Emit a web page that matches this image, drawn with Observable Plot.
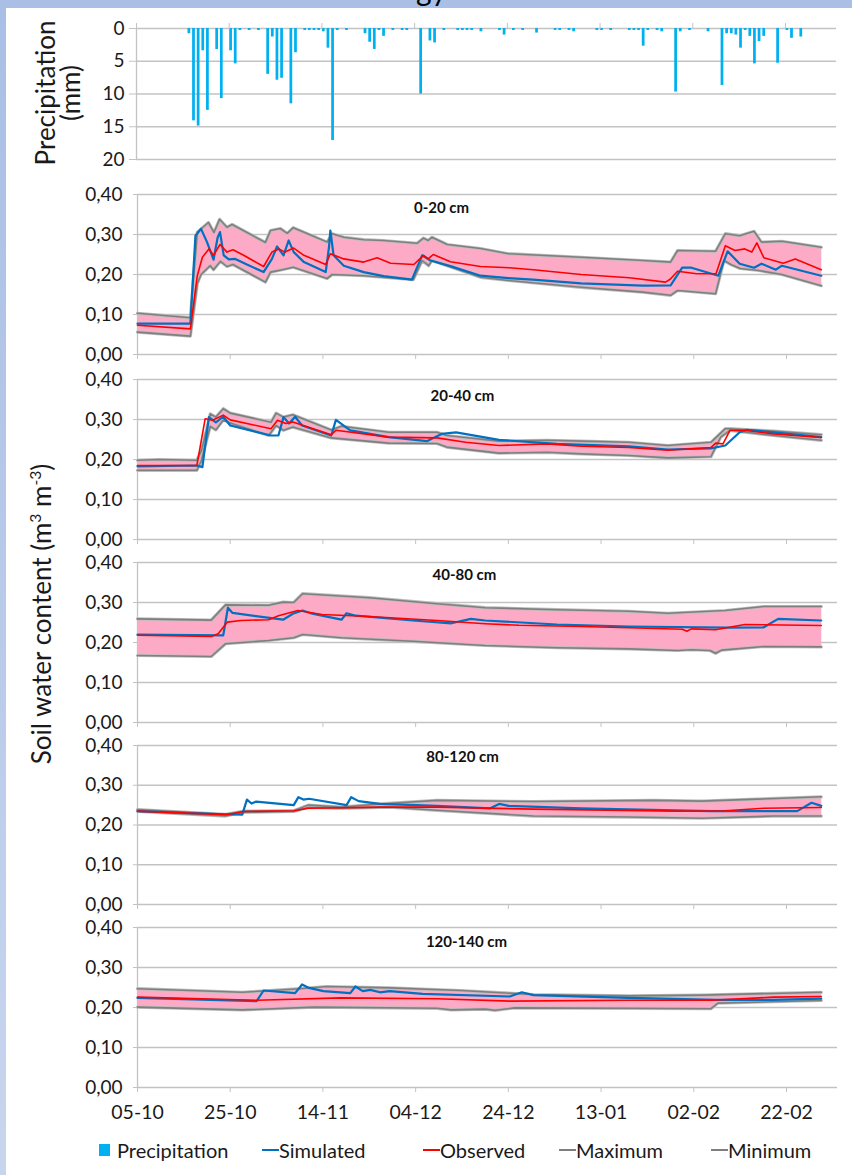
<!DOCTYPE html>
<html><head><meta charset="utf-8">
<script src="https://cdn.jsdelivr.net/npm/d3@7"></script>
<script src="https://cdn.jsdelivr.net/npm/@observablehq/plot@0.6"></script>
<style>
body{margin:0;}
#page{position:relative;width:852px;height:1175px;overflow:hidden;background:linear-gradient(#a9bfe5,#c8d5ee);font-family:Lato,sans-serif;color:#1a1a1a}
#sheet{position:absolute;left:6px;top:8px;right:0;bottom:0;background:#fff}
.abs{position:absolute}
svg{overflow:visible}
</style></head><body><div id="page"><div id="sheet"></div></div>
<script>
// ---------------- data (days since 05-10, values) ----------------
const tickDays = [0, 20, 40, 60, 80, 100, 120, 140];
const soilTicks = [0, 0.1, 0.2, 0.3, 0.4];
const precipTicks = [0, 5, 10, 15, 20];
const panelLabels = ["0-20 cm", "20-40 cm", "40-80 cm", "80-120 cm", "120-140 cm"];
const legendNames = ["Precipitation", "Simulated", "Observed", "Maximum", "Minimum"];

const precipDays = [11,12,13,14,15,17,18,20,21,22,24,26,28,29,30,31,33,34,36,37,38,39,40,41,42,43,45,49,50,51,52,53,55,57,58,61,63,64,66,69,70,71,72,74,78,79,81,83,86,90,91,93,94,99,100,102,106,107,108,109,110,112,113,116,117,119,123,126,127,128,129,130,131,132,133,134,135,138,140,141,143];
const precipMM = [0.8,14.1,14.9,3.4,12.5,3.2,10.7,3.4,5.4,0.3,0.3,0.3,7.0,1.3,7.9,7.6,11.5,3.7,0.3,0.3,0.3,0.3,0.5,3.0,17.1,0.3,0.3,0.8,2.1,3.2,0.3,1.2,0.3,0.3,0.3,10.0,1.9,2.2,0.3,0.3,0.3,0.3,0.3,0.5,0.3,1.0,0.3,0.3,0.7,0.3,0.3,0.3,0.5,0.3,0.3,0.3,0.3,0.3,0.3,2.7,0.3,0.3,0.5,9.7,0.5,0.3,0.5,8.7,0.8,0.8,1.0,3.0,0.3,1.2,5.4,2.0,1.2,5.3,0.3,1.5,1.3];

// 0-20 cm
const sim0_20 = [[0,.077],[11.4,.077],[12.5,.297],[13.7,.314],[15,.281],[16.4,.237],[17.3,.293],[17.8,.306],[18.6,.248],[19.7,.238],[21.1,.239],[23.6,.225],[27.2,.206],[29,.239],[30.1,.27],[31.5,.248],[32.6,.285],[33.7,.256],[35.9,.231],[40.6,.206],[41.3,.268],[41.6,.31],[42.3,.248],[44.5,.222],[48.8,.206],[53.1,.196],[59.2,.187],[61.4,.248],[63.2,.235],[67.5,.221],[74,.197],[80,.191],[85.3,.187],[95.7,.178],[109,.172],[115,.173],[117.5,.217],[119.5,.217],[125.3,.197],[127.3,.258],[129.9,.227],[133,.217],[134.6,.227],[137.7,.212],[139,.222],[147.5,.197]];
const obs0_20 = [[0,.073],[11.4,.064],[12.9,.197],[14,.243],[15.4,.264],[16.4,.248],[17.8,.275],[19.3,.256],[20.6,.262],[22.9,.248],[27.2,.22],[29,.256],[30.5,.264],[31.8,.256],[33.7,.266],[35.9,.248],[40.6,.225],[41.6,.252],[44.5,.239],[48.8,.231],[51.7,.242],[54.6,.228],[59.6,.225],[61.7,.248],[62.7,.239],[63.8,.25],[67.5,.232],[74,.22],[80.2,.217],[85.4,.212],[95.7,.2],[106.1,.192],[113.9,.181],[114.9,.188],[116.5,.208],[120.6,.202],[124.8,.202],[126.8,.272],[128.9,.26],[131,.264],[132.5,.256],[133.6,.279],[135.1,.242],[139.3,.228],[141.9,.239],[147.5,.212]];
const max0_20 = [[0,.103],[11.4,.092],[12.9,.306],[15.3,.33],[16.5,.305],[17.7,.338],[19.3,.318],[20.4,.325],[27.6,.28],[28.7,.31],[30.8,.315],[32.3,.303],[33.6,.317],[40.9,.281],[42,.302],[44.5,.293],[48.8,.287],[53,.285],[60.3,.278],[61.7,.291],[62.7,.285],[63.5,.293],[66.8,.275],[74,.265],[80,.252],[95.7,.243],[109,.235],[115,.231],[116.5,.26],[124.7,.258],[126.8,.302],[129.9,.297],[133,.308],[134.6,.281],[139,.283],[147.5,.268]];
const min0_20 = [[0,.056],[11.4,.046],[12.9,.177],[13.7,.2],[15.7,.222],[16.4,.212],[17.9,.233],[19.3,.22],[20.6,.225],[27.6,.181],[28.7,.206],[31.2,.212],[33.6,.218],[40.9,.19],[42,.2],[48.8,.197],[59.5,.187],[61.4,.235],[62.8,.222],[63.5,.235],[74,.193],[80,.185],[95.7,.168],[109,.156],[115,.148],[116.5,.16],[124.7,.152],[126.5,.235],[128,.225],[130,.215],[134,.21],[139,.2],[147.5,.172]];

// 20-40 cm
const sim20_40 = [[0,.183],[12.8,.185],[14,.181],[15.4,.306],[16.9,.293],[18.5,.307],[20,.285],[28.8,.26],[30.4,.26],[31.5,.306],[32.7,.29],[34,.307],[35.5,.285],[41.8,.26],[42.8,.299],[45.9,.273],[54.2,.256],[62.5,.246],[65.6,.264],[68.7,.268],[78,.249],[90.5,.239],[106,.233],[114.4,.225],[123.7,.228],[126.8,.235],[129.9,.268],[131.5,.274],[137.2,.268],[147.5,.256]];
const obs20_40 = [[0,.185],[12.8,.185],[14.6,.302],[16.2,.298],[18.5,.311],[20,.299],[28.8,.277],[30.2,.298],[32,.29],[33.5,.294],[41.8,.262],[42.8,.273],[54.2,.256],[64.6,.254],[70.8,.243],[78,.235],[88.4,.239],[95.7,.233],[106,.23],[114.4,.223],[123.7,.23],[124.7,.241],[126.3,.239],[127.8,.273],[131,.273],[137.2,.264],[147.5,.255]];
const max20_40 = [[0,.198],[4.5,.2],[12.8,.198],[13.8,.222],[15.7,.314],[16.9,.306],[18.5,.327],[20,.316],[28.8,.293],[29.9,.316],[31.5,.306],[33.5,.312],[41.8,.274],[44,.283],[54.2,.268],[64.6,.268],[66.7,.26],[78,.246],[88.4,.248],[95.7,.246],[106,.243],[114.4,.235],[123.7,.243],[126.8,.277],[127.8,.277],[137.2,.271],[147.5,.262]];
const min20_40 = [[0,.173],[12.8,.173],[13.8,.198],[15.7,.283],[16.9,.274],[18.5,.299],[20,.291],[28.3,.26],[29.9,.285],[31.5,.273],[33.5,.281],[41.8,.254],[54.2,.241],[64.6,.24],[66.7,.231],[78,.216],[88.4,.218],[95.7,.214],[106,.21],[114.4,.204],[123.7,.207],[125.8,.256],[127.8,.273],[137.2,.26],[147.5,.248]];

// 40-80 cm
const sim40_80 = [[0,.22],[18.5,.218],[19.5,.287],[20.5,.274],[31.4,.257],[33.5,.272],[35.6,.28],[37.7,.272],[44,.257],[45.1,.273],[47.1,.267],[59.4,.255],[67.7,.248],[71.9,.259],[75,.255],[90.5,.245],[106,.24],[126.8,.237],[135.1,.238],[138.2,.259],[147.5,.255]];
const obs40_80 = [[0,.218],[15.9,.215],[17.4,.222],[19.4,.251],[22.3,.255],[28.3,.257],[30.4,.267],[34.6,.28],[39.8,.27],[50,.265],[64.6,.255],[75,.247],[82.3,.243],[95.7,.24],[106,.237],[117.5,.233],[118.5,.228],[119.5,.234],[124.7,.232],[131,.245],[147.5,.2425]];
const max40_80 = [[0,.259],[15.9,.256],[19,.294],[28.3,.293],[31.4,.301],[33.7,.3],[35.6,.322],[50,.312],[64.6,.297],[75,.287],[90.5,.282],[106,.278],[114.4,.273],[126.8,.28],[135.1,.29],[147.5,.29]];
const min40_80 = [[0,.1675],[15.9,.165],[19,.197],[28.3,.205],[33.7,.212],[35.6,.22],[44,.212],[59.4,.203],[75,.1925],[90.5,.187],[106,.184],[116.5,.18],[119.5,.182],[123.5,.18],[124.7,.173],[126,.181],[135.1,.19],[147.5,.189]];

// 80-120 cm
const sim80_120 = [[0,.235],[19,.227],[22.6,.226],[23.6,.264],[24.6,.254],[25.6,.259],[33.7,.25],[34.7,.27],[35.8,.264],[37,.266],[45.1,.25],[46.1,.27],[47.7,.26],[52.3,.253],[64.6,.248],[76.1,.242],[78,.253],[80.1,.248],[95.7,.242],[123.7,.235],[142.3,.235],[145.4,.256],[147.5,.248]];
const obs80_120 = [[0,.235],[19,.226],[23,.234],[33.7,.236],[36.8,.242],[52.3,.245],[64.6,.245],[85.4,.24],[116.5,.235],[126.8,.236],[135.1,.242],[147.5,.244]];
const max80_120 = [[0,.239],[19,.227],[23,.235],[33.7,.236],[36.8,.25],[44,.245],[52.3,.253],[64.6,.262],[85.4,.259],[111.3,.262],[121.8,.26],[147.5,.271]];
const min80_120 = [[0,.234],[19,.2225],[23,.232],[33.7,.234],[36.8,.244],[44,.242],[54.4,.245],[64.6,.237],[85.4,.2225],[106,.22],[121.8,.217],[137.2,.2225],[147.5,.2225]];

// 120-140 cm
const sim120_140 = [[0,.224],[25.7,.216],[27.2,.2425],[34,.236],[35.5,.2575],[37,.249],[40.1,.241],[45.9,.236],[47,.2525],[48.6,.241],[50.2,.244],[52.3,.238],[54.4,.241],[61.5,.234],[80.3,.2275],[82.9,.238],[85.4,.231],[106,.224],[124.7,.219],[137.2,.219],[147.5,.222]];
const obs120_140 = [[0,.226],[25.7,.218],[43.8,.224],[64.6,.222],[80.3,.216],[106,.218],[123.7,.218],[137.2,.226],[147.5,.2275]];
const max120_140 = [[0,.247],[22.6,.238],[35,.247],[40.8,.2525],[54.4,.249],[69.7,.2425],[85.4,.2325],[106,.229],[121.8,.231],[147.5,.238]];
const min120_140 = [[0,.201],[22.6,.194],[38.2,.201],[64.6,.198],[67.7,.194],[75,.196],[77.1,.193],[81.3,.199],[106,.198],[123.7,.197],[125.2,.211],[147.5,.2175]];

// ---------------- drawing ----------------
const SIM = [sim0_20, sim20_40, sim40_80, sim80_120, sim120_140];
const OBS = [obs0_20, obs20_40, obs40_80, obs80_120, obs120_140];
const MAX = [max0_20, max20_40, max40_80, max80_120, max120_140];
const MIN = [min0_20, min20_40, min40_80, min80_120, min120_140];

const C = {precip: "#00b0f0", sim: "#0070c0", obs: "#ff0000", gray: "#7f7f7f", grayHalo: "#bdbdbd", pink: "#fcaac6", grid: "#c3c3c3"};
const DAY0 = Date.UTC(2012, 9, 5);
const toDate = d => new Date(DAY0 + d * 864e5);
const xDomain = [toDate(0), toDate(151)];
const xTicks = tickDays.map(toDate);
const fmtY = d => d.toFixed(2).replace(".", ",");
const fmtX = d3.utcFormat("%d-%m");
const rows = arr => arr.map(([d, v]) => ({date: toDate(d), v}));
const page = document.getElementById("page");
const baseStyle = {background: "transparent", overflow: "visible", fontFamily: "Lato, sans-serif", color: "#1a1a1a"};

function place(node, top) {
  node.style.position = "absolute";
  node.style.left = "0px";
  node.style.top = top + "px";
  page.appendChild(node);
}

// precipitation panel (0 mm at y=28, 20 mm at y=159)
{
  const mt = 14, mb = 8;
  const data = precipDays.map((d, i) => ({d0: toDate(d), d1: toDate(d + 1), mm: precipMM[i]}));
  const svg = Plot.plot({
    width: 852, height: 131 + mt + mb,
    marginLeft: 136, marginRight: 16, marginTop: mt, marginBottom: mb,
    style: {...baseStyle, fontSize: "19px"},
    x: {type: "utc", domain: xDomain},
    y: {domain: [0, 20], reverse: true},
    marks: [
      Plot.ruleY(precipTicks, {stroke: C.grid, strokeWidth: 1.3}),
      Plot.ruleX([xDomain[0]], {stroke: C.grid, strokeWidth: 1.3}),
      Plot.rect(data, {x1: "d0", x2: "d1", y1: 0, y2: "mm", fill: C.precip, insetLeft: 0.5, insetRight: 1.4}),
      Plot.axisY({ticks: precipTicks, tickSize: 7, tickPadding: 5, stroke: C.grid, label: null}),
      Plot.axisX({anchor: "top", ticks: xTicks, tickFormat: () => "", tickSize: 6, stroke: C.grid, label: null})
    ]
  });
  place(svg, 28 - mt);
}

// soil water panels
const panelTop = [194, 379, 562, 745, 927];
const panelBottom = [354, 539, 722, 904, 1087];
const titleDx = [-46, -25, -23, -25, -21];
const titleDy = [14, 17, 13, 12, 15];
for (let i = 0; i < 5; i++) {
  const last = i === 4;
  const mt = 14, mb = last ? 45 : 8;
  const band = [...rows(MAX[i]), ...rows(MIN[i]).reverse()];
  const svg = Plot.plot({
    width: 852, height: panelBottom[i] - panelTop[i] + mt + mb,
    marginLeft: 137, marginRight: 15, marginTop: mt, marginBottom: mb,
    style: {...baseStyle, fontSize: "19px"},
    x: {type: "utc", domain: xDomain},
    y: {domain: [0, 0.4]},
    marks: [
      Plot.ruleY(soilTicks, {stroke: C.grid, strokeWidth: 1.3}),
      Plot.ruleX([xDomain[0]], {stroke: C.grid, strokeWidth: 1.3}),
      Plot.line(band, {x: "date", y: "v", fill: C.pink, stroke: "none"}),
      Plot.line(rows(MAX[i]), {x: "date", y: "v", stroke: C.grayHalo, strokeWidth: 3.2}),
      Plot.line(rows(MIN[i]), {x: "date", y: "v", stroke: C.grayHalo, strokeWidth: 3.2}),
      Plot.line(rows(MAX[i]), {x: "date", y: "v", stroke: C.gray, strokeWidth: 1.6}),
      Plot.line(rows(MIN[i]), {x: "date", y: "v", stroke: C.gray, strokeWidth: 1.6}),
      Plot.line(rows(SIM[i]), {x: "date", y: "v", stroke: C.sim, strokeWidth: 2.2}),
      Plot.line(rows(OBS[i]), {x: "date", y: "v", stroke: C.obs, strokeWidth: 1.6}),
      Plot.axisY({ticks: soilTicks, tickFormat: fmtY, tickSize: 4, tickPadding: 11, stroke: C.grid, label: null}),
      Plot.axisX({ticks: xTicks, tickFormat: last ? fmtX : () => "", tickSize: 5, tickPadding: 13, stroke: C.grid, label: null, fontSize: 19.5}),
      Plot.text([panelLabels[i]], {frameAnchor: "top", lineAnchor: "middle", dx: titleDx[i], dy: titleDy[i], fontWeight: "bold", fontSize: 15, fill: "#111"})
    ]
  });
  place(svg, panelTop[i] - mt);
}

// axis titles
function rotLabel(html, cx, cy, size) {
  const d = document.createElement("div");
  d.className = "abs";
  d.innerHTML = html;
  d.style.cssText += `left:${cx}px;top:${cy}px;font-size:${size}px;white-space:nowrap;transform:translate(-50%,-50%) rotate(-90deg);line-height:1;color:#1a1a1a`;
  page.appendChild(d);
}
rotLabel("Precipitation", 45, 93, 26);
rotLabel("(mm)", 70, 93, 26);
rotLabel("Soil water content (m<sup style='font-size:60%'>3</sup> m<sup style='font-size:60%'>-3</sup>)", 41, 614, 26);

// cut-off title remnant at the very top
{
  const t = document.createElement("div");
  t.className = "abs";
  t.textContent = "gy";
  t.style.cssText += "left:416px;top:-26px;font-size:30px;line-height:30px;color:#000";
  page.appendChild(t);
}

// legend
const legendLeft = [99, 262, 423, 559, 711];
const legendColor = [C.precip, C.sim, C.obs, C.gray, C.gray];
legendNames.forEach((name, i) => {
  const item = document.createElement("div");
  item.className = "abs";
  item.style.cssText += `left:${legendLeft[i]}px;top:1138px;height:24px;display:flex;align-items:center;font-size:20px;white-space:nowrap;color:#1a1a1a`;
  const mark = document.createElement("span");
  mark.style.cssText = i === 0
    ? `display:inline-block;width:11px;height:12px;background:${legendColor[i]};margin-right:7px`
    : `display:inline-block;width:17px;height:2px;background:${legendColor[i]};margin-right:0px`;
  item.appendChild(mark);
  item.appendChild(document.createTextNode(name));
  page.appendChild(item);
});
</script></body></html>
